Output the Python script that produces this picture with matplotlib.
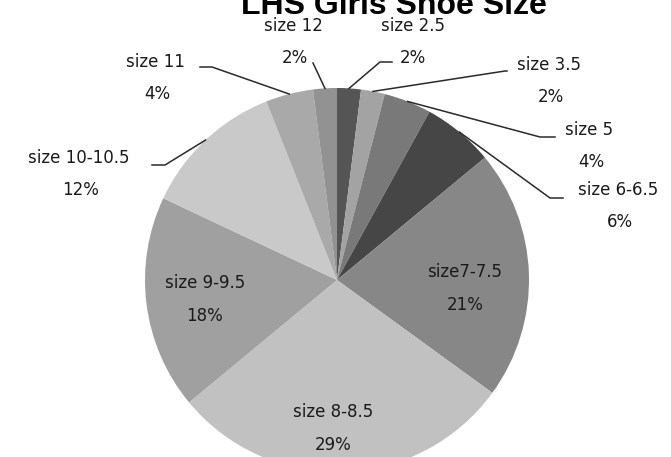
import matplotlib.pyplot as plt
import numpy as np

# slices go clockwise from 12 o'clock
sizes = ['size 2.5', 'size 3.5', 'size 5', 'size 6-6.5', 'size7-7.5',
         'size 8-8.5', 'size 9-9.5', 'size 10-10.5', 'size 11', 'size 12']
percents = [2, 2, 4, 6, 21, 29, 18, 12, 4, 2]
colors = ['#555555', '#a3a3a3', '#797979', '#464646', '#878787',
          '#c1c1c1', '#a0a0a0', '#c9c9c9', '#a9a9a9', '#929292']

W, H = 671, 457
fig = plt.figure(figsize=(W / 100, H / 100), dpi=100)
ax = fig.add_axes([0, 0, 1, 1])

# pie centre and radius in pixels (y measured from bottom)
cx, cy, R = 337, H - 280, 192

wedges, _ = ax.pie(percents, colors=colors, startangle=90, counterclock=False,
                   center=(cx, cy), radius=R,
                   wedgeprops=dict(linewidth=0, antialiased=True))
ax.set_xlim(0, W)
ax.set_ylim(0, H)
ax.set_aspect('equal')
ax.axis('off')

font = dict(family='DejaVu Sans', fontsize=12, color='#1a1a1a')

# label layout: text centre (x, y from top), elbow point, end of short tick
outside = {
    'size 2.5':     ((413, 26), (380, 62), (392, 62)),
    'size 3.5':     ((549, 65), (505, 71), (507, 71)),
    'size 5':       ((589, 130), (540, 137), (555, 137)),
    'size 6-6.5':   ((618, 190), (550, 198), (563, 198)),
    'size 10-10.5': ((79, 158), (165, 165), (152, 165)),
    'size 11':      ((155, 62), (212, 67), (200, 67)),
    'size 12':      ((293, 26), (313, 63), (313, 63)),
}
inside = {
    'size7-7.5':  (465, 272),
    'size 8-8.5': (333, 412),
    'size 9-9.5': (205, 283),
}

for w, name, pct in zip(wedges, sizes, percents):
    mid = np.deg2rad((w.theta1 + w.theta2) / 2)
    if name in outside:
        (tx, ty), (ex, ey), (hx, hy) = outside[name]
        sx = cx + R * np.cos(mid)
        sy = cy + R * np.sin(mid)
        ax.plot([sx, ex, hx], [sy, H - ey, H - hy], color='#2a2a2a', lw=1.1)
        dx = 0 if name == 'size 2.5' else 2
        ax.text(tx, H - ty, name, ha='center', va='center', **font)
        ax.text(tx + dx, H - ty - 32, f'{pct}%', ha='center', va='center', **font)
    else:
        tx, ty = inside[name]
        ax.text(tx, H - ty, name, ha='center', va='center', **font)
        ax.text(tx, H - ty - 33, f'{pct}%', ha='center', va='center', **font)

# title, partly cut off at the top like the original
ax.text(394, H - 14, 'LHS Girls Shoe Size', ha='center', va='baseline',
        family='Liberation Sans', fontweight='bold', fontsize=23, color='black')

fig.savefig('out.png', dpi=100)
